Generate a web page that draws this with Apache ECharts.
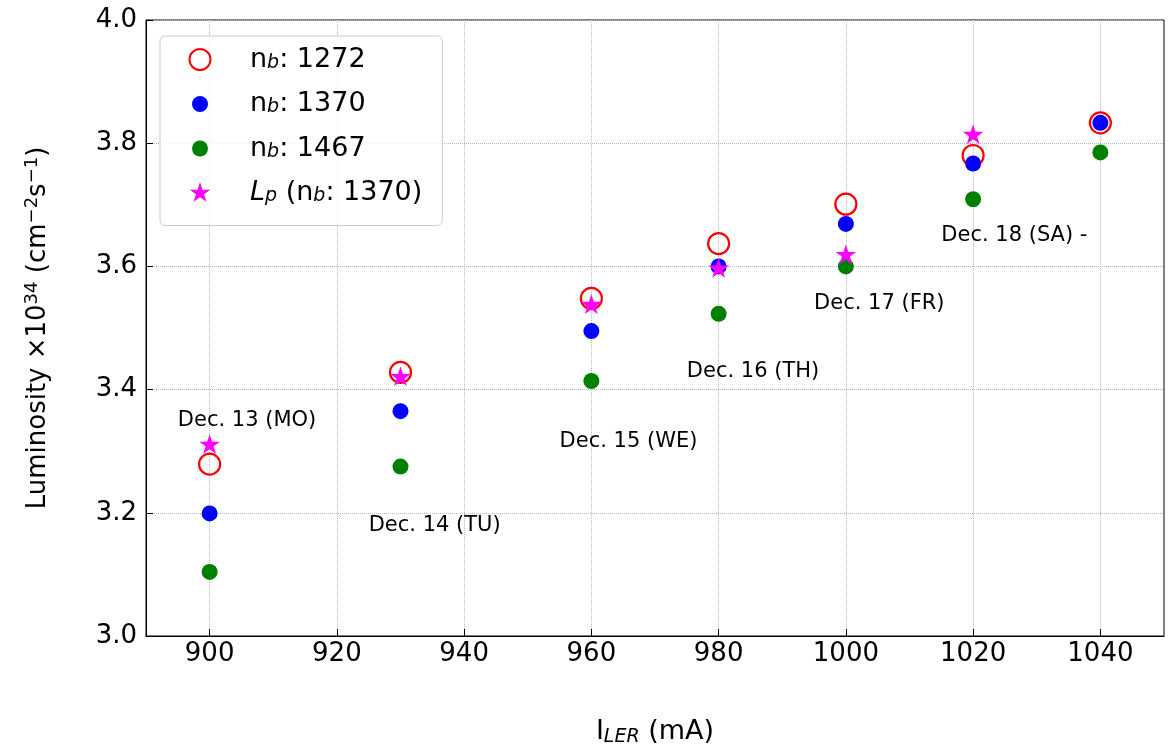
<!DOCTYPE html>
<html><head><meta charset="utf-8">
<script src="https://cdn.jsdelivr.net/npm/echarts@6/dist/echarts.min.js"></script>
<style>html,body{margin:0;padding:0;background:#fff}#c{width:1175px;height:755px}</style>
</head><body><div id="c"></div>
<script>
// ---- data ----
const currents = [900, 930, 960, 980, 1000, 1020, 1040];
const lum1272 = [3.279, 3.428, 3.548, 3.637, 3.701, 3.780, 3.833];
const lum1370 = [3.199, 3.365, 3.495, 3.600, 3.669, 3.767, 3.833];
const lum1467 = [3.104, 3.275, 3.414, 3.523, 3.600, 3.709, 3.785];
const peakCurrents = [900, 930, 960, 980, 1000, 1020];
const lumPeak1370 = [3.310, 3.420, 3.537, 3.596, 3.618, 3.813];
const dayLabels = ['Dec. 13 (MO)', 'Dec. 14 (TU)', 'Dec. 15 (WE)', 'Dec. 16 (TH)', 'Dec. 17 (FR)', 'Dec. 18 (SA) -'];
const dayLabelX = [895, 925, 955, 975, 995, 1015];
const dayLabelY = [3.35, 3.18, 3.315, 3.43, 3.54, 3.65];
const xTickValues = [900, 920, 940, 960, 980, 1000, 1020, 1040];
const seriesNames = ['nb: 1272', 'nb: 1370', 'nb: 1467', 'Lp (nb: 1370)'];
const legendTexts = ['{n|n}{s|b}{n|: 1272}', '{n|n}{s|b}{n|: 1370}', '{n|n}{s|b}{n|: 1467}', '{i|L}{s|p}{n| (n}{s|b}{n|: 1370)}'];

// ---- styling ----
const FONT = 'DejaVu Sans';
const ringPath = 'path://M0,0M24,24M22.5,12A10.5,10.5,0,1,1,1.5,12A10.5,10.5,0,1,1,22.5,12Z';
const dotPath = 'path://M0,0M24,24M20,12A8,8,0,1,1,4,12A8,8,0,1,1,20,12Z';
const starPath = 'path://M-1,-1M21,21M10,0L12.245,6.91L19.51,6.91L13.633,11.18L15.878,18.09L10,13.82L4.122,18.09L6.367,11.18L0.49,6.91L7.755,6.91Z';

const pair = (xs, ys) => xs.map((x, i) => [x, ys[i]]);

const chart = echarts.init(document.getElementById('c'), null, {renderer: 'canvas'});
chart.setOption({
  animation: false,
  backgroundColor: '#fff',
  textStyle: {fontFamily: FONT},
  grid: {left: 146, right: 11, top: 20, bottom: 119, show: true, borderColor: '#000', borderWidth: 1, backgroundColor: 'transparent'},
  legend: {
    orient: 'vertical', left: 160, top: 36,
    padding: [10, 20, 19, 27], itemGap: 17.5, itemWidth: 30, itemHeight: 24,
    borderColor: '#cccccc', borderWidth: 1, borderRadius: 5,
    backgroundColor: 'rgba(255,255,255,0.8)',
    selectedMode: false,
    data: [
      {name: seriesNames[0], icon: ringPath},
      {name: seriesNames[1], icon: dotPath},
      {name: seriesNames[2], icon: dotPath},
      {name: seriesNames[3], icon: starPath}
    ],
    formatter: name => legendTexts[seriesNames.indexOf(name)],
    textStyle: {
      padding: [0, 0, 0, 30],
      rich: {
        n: {fontFamily: FONT, fontSize: 27, lineHeight: 26, color: '#000'},
        i: {fontFamily: FONT, fontSize: 27, lineHeight: 26, color: '#000', fontStyle: 'italic'},
        s: {fontFamily: FONT, fontSize: 19, lineHeight: 10, color: '#000', fontStyle: 'italic', verticalAlign: 'bottom'}
      }
    }
  },
  xAxis: {
    type: 'value', min: 890, max: 1050,
    name: '{n|I}{s|LER}{n| (mA)}', nameLocation: 'middle', nameGap: 81,
    nameTextStyle: {rich: {
      n: {fontFamily: FONT, fontSize: 27, lineHeight: 30, color: '#000'},
      s: {fontFamily: FONT, fontSize: 19, lineHeight: 10, color: '#000', fontStyle: 'italic', verticalAlign: 'bottom'}
    }},
    axisLine: {show: true, onZero: false, lineStyle: {color: '#000', width: 1}},
    axisTick: {show: true, inside: true, length: 7, customValues: xTickValues, lineStyle: {color: '#000'}},
    axisLabel: {customValues: xTickValues, fontFamily: FONT, fontSize: 26, color: '#000', margin: 5, formatter: v => String(v)},
    splitLine: {show: true, lineStyle: {color: '#b8b8b8', width: 1, type: 'dotted'}}
  },
  yAxis: {
    type: 'value', min: 3.0, max: 4.0, interval: 0.2,
    name: '{n|Luminosity ×10}{p|34}{n| (cm}{p|−2}{n|s}{p|−1}{n|)}', nameLocation: 'middle', nameGap: 93, nameRotate: 90,
    nameTextStyle: {rich: {
      n: {fontFamily: FONT, fontSize: 26, lineHeight: 30, color: '#000'},
      p: {fontFamily: FONT, fontSize: 18, lineHeight: 12, color: '#000', verticalAlign: 'top'}
    }},
    axisLine: {show: true, onZero: false, lineStyle: {color: '#000', width: 1}},
    axisTick: {show: true, inside: true, length: 7, lineStyle: {color: '#000'}},
    axisLabel: {fontFamily: FONT, fontSize: 26, color: '#000', margin: 9, formatter: v => v.toFixed(1)},
    splitLine: {show: true, lineStyle: {color: '#b8b8b8', width: 1, type: 'dotted'}}
  },
  series: [
    {name: seriesNames[0], type: 'scatter', data: pair(currents, lum1272), symbol: ringPath, symbolSize: 24, symbolKeepAspect: true,
     itemStyle: {color: 'rgba(255,255,255,0)', borderColor: '#ff0000', borderWidth: 2.2, opacity: 1}},
    {name: seriesNames[1], type: 'scatter', data: pair(currents, lum1370), symbol: dotPath, symbolSize: 24, symbolKeepAspect: true,
     itemStyle: {color: '#0000ff', opacity: 1}},
    {name: seriesNames[2], type: 'scatter', data: pair(currents, lum1467), symbol: dotPath, symbolSize: 24, symbolKeepAspect: true,
     itemStyle: {color: '#008000', opacity: 1}},
    {name: seriesNames[3], type: 'scatter', data: pair(peakCurrents, lumPeak1370), symbol: starPath, symbolSize: 24, symbolKeepAspect: true,
     itemStyle: {color: '#ff00ff', opacity: 1}},
    {name: 'days', type: 'scatter', silent: true, symbolSize: 0, legendHoverLink: false,
     itemStyle: {opacity: 1},
     data: dayLabelX.map((x, i) => [x, dayLabelY[i], dayLabels[i]]),
     label: {show: true, position: 'right', distance: 0, formatter: p => p.data[2],
             fontFamily: FONT, fontSize: 21, color: '#000', opacity: 1}}
  ]
});
</script>
</body></html>
